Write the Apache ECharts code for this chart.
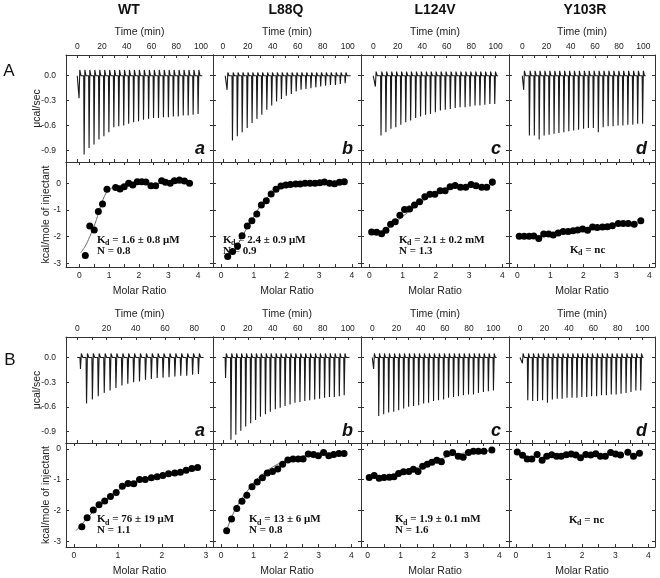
<!DOCTYPE html>
<html><head><meta charset="utf-8">
<script src="https://cdn.jsdelivr.net/npm/echarts@6/dist/echarts.min.js"></script>
<style>html,body{margin:0;padding:0;background:#fff}#c{width:660px;height:578px}</style>
</head><body><div id="c"></div><script>
// ================= DATA =================
const proteins = ['WT', 'L88Q', 'L124V', 'Y103R'];
const panelLetters = ['a', 'b', 'c', 'd'];
const timeTicks = [0, 20, 40, 60, 80, 100];
const timeTicksShort = [0, 20, 40, 60, 80];
const ratioTicks = [0, 1, 2, 3, 4];
const ratioTicksShort = [0, 1, 2, 3];
const rawTicks = [0, -0.3, -0.6, -0.9];
const heatTicks = [0, -1, -2, -3];

// Raw thermograms: injection times (min) and peak power (µcal/sec); first = small initial injection
const A_WT_t = [1.1, 5.2, 9.2, 13.2, 17.2, 21.2, 25.2, 29.2, 33.2, 37.2, 41.2, 45.2, 49.2, 53.2, 57.3, 61.3, 65.3, 69.3, 73.3, 77.3, 81.3, 85.3, 89.3, 93.3, 97.3];
const A_WT_p = [-0.27, -0.95, -0.87, -0.83, -0.77, -0.73, -0.68, -0.62, -0.61, -0.60, -0.58, -0.56, -0.55, -0.53, -0.52, -0.51, -0.51, -0.50, -0.50, -0.49, -0.49, -0.48, -0.48, -0.47, -0.46];
const A_L88Q_t = [3.1, 7.4, 11.3, 15.2, 19.2, 23.1, 27.0, 30.9, 34.9, 38.8, 42.7, 46.6, 50.5, 54.5, 58.4, 62.3, 66.2, 70.2, 74.1, 78.0, 81.9, 85.8, 89.8, 93.7, 97.6];
const A_L88Q_p = [-0.17, -0.78, -0.73, -0.68, -0.63, -0.57, -0.52, -0.47, -0.41, -0.36, -0.31, -0.28, -0.24, -0.22, -0.19, -0.17, -0.16, -0.15, -0.14, -0.13, -0.12, -0.11, -0.11, -0.10, -0.09];
const A_L124V_t = [1.4, 6.0, 10.0, 14.1, 18.1, 22.2, 26.2, 30.2, 34.3, 38.3, 42.4, 46.4, 50.4, 54.5, 58.5, 62.6, 66.6, 70.6, 74.7, 78.7, 82.8, 86.8, 90.8, 94.9, 98.9];
const A_L124V_p = [-0.13, -0.72, -0.68, -0.64, -0.62, -0.59, -0.56, -0.54, -0.51, -0.49, -0.47, -0.46, -0.44, -0.42, -0.41, -0.40, -0.39, -0.38, -0.38, -0.37, -0.36, -0.36, -0.35, -0.34, -0.34];
const A_Y103R_t = [0.8, 5.5, 9.6, 13.6, 17.7, 21.8, 25.9, 29.9, 34.0, 38.1, 42.1, 46.2, 50.3, 54.3, 58.4, 62.5, 66.5, 70.6, 74.7, 78.8, 82.8, 86.9, 91.0, 95.0, 99.1];
const A_Y103R_p = [-0.17, -0.72, -0.72, -0.77, -0.72, -0.71, -0.70, -0.69, -0.68, -0.67, -0.66, -0.65, -0.64, -0.63, -0.63, -0.68, -0.62, -0.61, -0.61, -0.60, -0.60, -0.59, -0.59, -0.58, -0.58];
const B_WT_t = [1.85, 6.0, 10.0, 14.0, 18.1, 22.1, 26.1, 30.2, 34.2, 38.2, 42.2, 46.3, 50.3, 54.3, 58.3, 62.4, 66.4, 70.4, 74.5, 78.5, 82.5];
const B_WT_p = [-0.14, -0.56, -0.51, -0.47, -0.43, -0.40, -0.37, -0.34, -0.32, -0.30, -0.29, -0.27, -0.26, -0.25, -0.245, -0.24, -0.23, -0.22, -0.22, -0.21, -0.20];
const B_L88Q_t = [1.9, 6.2, 10.1, 14.1, 18.0, 22.0, 25.9, 29.8, 33.8, 37.7, 41.7, 45.6, 49.5, 53.5, 57.4, 61.4, 65.3, 69.2, 73.2, 77.1, 81.1, 85.0, 88.9, 92.9, 96.8];
const B_L88Q_p = [-0.25, -1.0, -0.94, -0.89, -0.84, -0.80, -0.76, -0.72, -0.69, -0.66, -0.63, -0.61, -0.59, -0.57, -0.55, -0.54, -0.53, -0.52, -0.51, -0.50, -0.49, -0.48, -0.48, -0.47, -0.46];
const B_L124V_t = [0.8, 5.0, 9.1, 13.2, 17.4, 21.5, 25.6, 29.7, 33.8, 38.0, 42.1, 46.2, 50.3, 54.4, 58.6, 62.7, 66.8, 70.9, 75.0, 79.2, 83.3, 87.4, 91.5, 95.6, 99.8];
const B_L124V_p = [-0.14, -0.71, -0.69, -0.67, -0.66, -0.64, -0.62, -0.60, -0.59, -0.58, -0.56, -0.55, -0.53, -0.52, -0.51, -0.49, -0.48, -0.47, -0.46, -0.45, -0.45, -0.43, -0.42, -0.41, -0.40];
const B_Y103R_t = [1.6, 6.0, 10.0, 14.0, 18.1, 22.1, 26.1, 30.1, 34.1, 38.1, 42.2, 46.2, 50.2, 54.2, 58.2, 62.3, 66.3, 70.3, 74.3, 78.3, 82.3, 86.4, 90.4, 94.4, 98.4];
const B_Y103R_p = [-0.07, -0.52, -0.53, -0.53, -0.52, -0.55, -0.51, -0.50, -0.50, -0.49, -0.49, -0.49, -0.48, -0.48, -0.47, -0.47, -0.46, -0.46, -0.45, -0.45, -0.44, -0.43, -0.42, -0.40, -0.40];
// recovery overshoot above baseline (µcal/sec) and baseline extent (min)
const overshootA = [0.07, 0.04, 0.05, 0.06];
const overshootB = [0.05, 0.05, 0.05, 0.05];
const baselineA = [[0, 101], [2, 102.4], [0, 102], [0, 102]];
const baselineB = [[0, 86.4], [0, 101.4], [0, 102.8], [0, 101]];

// Integrated heats: molar ratio and kcal/mole of injectant
const A_WT_x = [0.2, 0.35, 0.5, 0.64, 0.78, 0.93, 1.22, 1.37, 1.51, 1.66, 1.8, 1.95, 2.1, 2.24, 2.41, 2.57, 2.77, 2.9, 3.06, 3.2, 3.37, 3.54, 3.71];
const A_WT_h = [-2.71, -1.6, -1.75, -1.06, -0.78, -0.22, -0.16, -0.21, -0.13, 0, -0.06, 0.06, 0.06, 0.05, -0.09, -0.09, 0.1, 0.04, 0, 0.1, 0.12, 0.09, 0];
const A_L88Q_x = [0.2, 0.35, 0.5, 0.64, 0.8, 0.94, 1.09, 1.23, 1.38, 1.53, 1.68, 1.83, 1.98, 2.12, 2.28, 2.42, 2.57, 2.72, 2.87, 3.02, 3.16, 3.32, 3.47, 3.62, 3.77];
const A_L88Q_h = [-2.75, -2.56, -2.35, -1.97, -1.6, -1.4, -1.15, -0.81, -0.65, -0.4, -0.22, -0.1, -0.06, -0.04, -0.03, -0.03, 0, 0, 0, 0.02, 0.05, 0, -0.02, 0.04, 0.06];
const A_L124V_x = [0.07, 0.22, 0.37, 0.5, 0.64, 0.78, 0.92, 1.06, 1.21, 1.36, 1.51, 1.67, 1.82, 1.97, 2.13, 2.28, 2.43, 2.58, 2.74, 2.9, 3.06, 3.21, 3.38, 3.53, 3.7];
const A_L124V_h = [-1.83, -1.84, -1.89, -1.76, -1.54, -1.44, -1.2, -0.98, -0.96, -0.81, -0.69, -0.5, -0.41, -0.41, -0.28, -0.28, -0.13, -0.08, -0.15, -0.15, -0.04, -0.09, -0.15, -0.15, 0.05];
const A_Y103R_x = [0.06, 0.21, 0.36, 0.5, 0.65, 0.8, 0.95, 1.09, 1.24, 1.39, 1.54, 1.69, 1.83, 1.98, 2.13, 2.28, 2.42, 2.58, 2.73, 2.88, 3.06, 3.21, 3.36, 3.54, 3.74];
const A_Y103R_h = [-1.99, -1.99, -1.99, -1.98, -2.07, -1.9, -1.9, -1.94, -1.86, -1.81, -1.81, -1.78, -1.75, -1.71, -1.76, -1.64, -1.66, -1.64, -1.63, -1.59, -1.51, -1.51, -1.51, -1.54, -1.4];
const B_WT_x = [0.18, 0.30, 0.44, 0.57, 0.70, 0.83, 0.96, 1.10, 1.23, 1.36, 1.49, 1.62, 1.76, 1.89, 2.02, 2.15, 2.29, 2.42, 2.55, 2.68, 2.81];
const B_WT_h = [-2.52, -2.23, -1.98, -1.81, -1.69, -1.54, -1.41, -1.21, -1.12, -1.13, -0.99, -0.99, -0.94, -0.90, -0.86, -0.81, -0.78, -0.76, -0.69, -0.64, -0.60];
const B_L88Q_x = [0.17, 0.32, 0.48, 0.64, 0.79, 0.95, 1.11, 1.27, 1.42, 1.58, 1.74, 1.89, 2.05, 2.21, 2.37, 2.52, 2.68, 2.84, 2.99, 3.15, 3.31, 3.46, 3.62, 3.78];
const B_L88Q_h = [-2.65, -2.27, -1.93, -1.70, -1.50, -1.23, -1.07, -0.94, -0.78, -0.73, -0.65, -0.50, -0.36, -0.33, -0.33, -0.33, -0.17, -0.18, -0.22, -0.12, -0.22, -0.18, -0.15, -0.15];
const B_L124V_x = [0.05, 0.2, 0.35, 0.5, 0.66, 0.8, 0.94, 1.09, 1.25, 1.39, 1.53, 1.67, 1.81, 1.95, 2.1, 2.24, 2.4, 2.58, 2.75, 2.9, 3.06, 3.21, 3.36, 3.53, 3.77];
const B_L124V_h = [-0.93, -0.86, -0.95, -0.93, -0.92, -0.9, -0.8, -0.74, -0.73, -0.66, -0.73, -0.56, -0.5, -0.43, -0.37, -0.42, -0.16, -0.12, -0.24, -0.27, -0.12, -0.08, -0.08, -0.08, -0.04];
const B_Y103R_x = [0.04, 0.2, 0.34, 0.48, 0.64, 0.79, 0.93, 1.08, 1.23, 1.37, 1.52, 1.67, 1.81, 1.95, 2.11, 2.26, 2.41, 2.55, 2.7, 2.86, 3.01, 3.16, 3.38, 3.55, 3.73];
const B_Y103R_h = [-0.1, -0.21, -0.33, -0.33, -0.18, -0.37, -0.24, -0.19, -0.24, -0.24, -0.19, -0.17, -0.2, -0.29, -0.18, -0.2, -0.16, -0.24, -0.24, -0.12, -0.17, -0.2, -0.11, -0.24, -0.14];

// Fitted binding curves [molar ratio, kcal/mol]
const A_WT_fit = [[0.05, -2.6], [0.2, -2.35], [0.35, -2.0], [0.5, -1.6], [0.65, -1.1], [0.8, -0.6], [0.95, -0.3], [1.1, -0.17], [1.3, -0.1], [1.6, -0.05], [2, -0.02], [3, 0], [3.75, 0.02]];
const A_L88Q_fit = [[0.15, -2.78], [0.4, -2.5], [0.6, -2.1], [0.8, -1.65], [1.0, -1.25], [1.2, -0.85], [1.4, -0.55], [1.6, -0.3], [1.8, -0.13], [2.0, -0.06], [2.5, -0.02], [3.0, 0], [3.8, 0.01]];
const A_L124V_fit = [[0.05, -1.85], [0.3, -1.85], [0.6, -1.65], [0.9, -1.35], [1.2, -1.05], [1.5, -0.78], [1.8, -0.52], [2.1, -0.33], [2.4, -0.2], [2.7, -0.13], [3.0, -0.1], [3.4, -0.08], [3.75, -0.07]];
const B_WT_fit = [[0.05, -2.65], [0.3, -2.25], [0.6, -1.8], [0.9, -1.45], [1.2, -1.18], [1.5, -1.02], [1.8, -0.92], [2.1, -0.83], [2.4, -0.75], [2.8, -0.62]];
const B_L88Q_fit = [[0.15, -2.7], [0.35, -2.15], [0.55, -1.75], [0.75, -1.45], [1.0, -1.1], [1.3, -0.8], [1.6, -0.58], [1.9, -0.42], [2.2, -0.3], [2.6, -0.22], [3.0, -0.17], [3.5, -0.14], [3.8, -0.12]];
const B_L124V_fit = [[0.05, -0.93], [0.5, -0.92], [0.8, -0.86], [1.1, -0.76], [1.4, -0.65], [1.7, -0.53], [2.0, -0.42], [2.3, -0.3], [2.6, -0.2], [2.9, -0.14], [3.2, -0.1], [3.5, -0.07], [3.8, -0.05]];

const kdA = ['1.6 ± 0.8 μM', '2.4 ± 0.9 μM', '2.1 ± 0.2 mM', 'nc'];
const nA = ['0.8', '0.9', '1.3', null];
const kdB = ['76 ± 19 μM', '13 ± 6 μM', '1.9 ± 0.1 mM', 'nc'];
const nB = ['1.1', '0.8', '1.6', null];

// ================= LAYOUT =================
const colLeft = [66, 213, 361, 509];
const colWidth = [147, 148, 148, 146];
const rowsA = {raw: [55, 107], heat: [162, 105]};
const rowsB = {raw: [337, 106], heat: [443, 106]};
const timeRangeA = [[-9.1, 109.7], [-7.8, 110.6], [-10, 110.9], [-11, 109.7]];
const timeRangeB = [[-7.7, 92.8], [-7.8, 110.6], [-9.3, 113], [-9, 110.4]];
const ratioRangeA = [[-0.45, 4.5], [-0.25, 4.28], [-0.25, 4.2], [-0.25, 4.17]];
const ratioRangeB = [[-0.18, 3.16], [-0.25, 4.3], [-0.2, 4.29], [-0.21, 4.2]];
const rawRange = [-1.04, 0.25];
const heatRangeA = [-3.14, 0.8];
const heatRangeB = [-3.18, 0.19];

const AX = '#333';
const grids = [], xAxes = [], yAxes = [], series = [];

function halfSteps(ticks, step) {
  const out = [];
  ticks.forEach((t, i) => { out.push(t); if (i < ticks.length - 1) out.push(t + step); });
  return out;
}

function addPanel(o) {
  const gi = grids.length;
  grids.push({left: o.left, top: o.top, width: o.width, height: o.height});
  const line = {show: true, onZero: false, lineStyle: {color: AX, width: 1}};
  const tick = v => ({show: true, inside: true, length: 3, customValues: v, lineStyle: {color: AX, width: 1}});
  const xi = xAxes.length;
  const other = o.xPos === 'top' ? 'bottom' : 'top';
  xAxes.push({
    type: 'value', gridIndex: gi, position: o.xPos, min: o.xr[0], max: o.xr[1],
    axisLine: line, axisTick: tick(o.xMinor), splitLine: {show: false},
    axisLabel: {show: true, customValues: o.xTicks, fontSize: 8.5, margin: 4, color: '#222', fontFamily: 'Liberation Sans'},
    name: o.xName, nameLocation: 'middle', nameGap: o.xNameGap, nameMoveOverlap: false,
    nameTextStyle: {fontSize: 10.5, color: '#222', fontFamily: 'Liberation Sans'}
  });
  xAxes.push({
    type: 'value', gridIndex: gi, position: other, min: o.xr[0], max: o.xr[1],
    axisLine: line, axisTick: tick(o.xMinor), axisLabel: {show: false}, splitLine: {show: false}
  });
  const yi = yAxes.length;
  yAxes.push({
    type: 'value', gridIndex: gi, position: 'left', min: o.yr[0], max: o.yr[1],
    axisLine: line, axisTick: tick(o.yTicks), splitLine: {show: false},
    axisLabel: {show: o.showY, customValues: o.yTicks, fontSize: 8.5, margin: o.yMargin, color: '#222',
      fontFamily: 'Liberation Sans', formatter: o.yFmt},
    name: o.showY ? o.yName : '', nameLocation: 'middle', nameGap: o.yNameGap, nameRotate: 90, nameMoveOverlap: false,
    nameTextStyle: {fontSize: 10.5, color: '#222', fontFamily: 'Liberation Sans'}
  });
  yAxes.push({
    type: 'value', gridIndex: gi, position: 'right', min: o.yr[0], max: o.yr[1],
    axisLine: line, axisTick: tick(o.yTicks), axisLabel: {show: false}, splitLine: {show: false}
  });
  return {xi, yi};
}

function trace(t, p, os, span) {
  const d = [[span[0], 0]];
  for (let i = 0; i < t.length; i++) {
    d.push([t[i], 0], [t[i] + 0.35, p[i]], [t[i] + 0.95, os], [t[i] + 1.9, 0]);
  }
  d.push([span[1], 0]);
  return d;
}
const zip = (x, y) => x.map((v, i) => [v, y[i]]);

const rawSets = {
  A: [[A_WT_t, A_WT_p], [A_L88Q_t, A_L88Q_p], [A_L124V_t, A_L124V_p], [A_Y103R_t, A_Y103R_p]],
  B: [[B_WT_t, B_WT_p], [B_L88Q_t, B_L88Q_p], [B_L124V_t, B_L124V_p], [B_Y103R_t, B_Y103R_p]]
};
const heatSets = {
  A: [[A_WT_x, A_WT_h, A_WT_fit], [A_L88Q_x, A_L88Q_h, A_L88Q_fit], [A_L124V_x, A_L124V_h, A_L124V_fit], [A_Y103R_x, A_Y103R_h, null]],
  B: [[B_WT_x, B_WT_h, B_WT_fit], [B_L88Q_x, B_L88Q_h, B_L88Q_fit], [B_L124V_x, B_L124V_h, B_L124V_fit], [B_Y103R_x, B_Y103R_h, null]]
};

['A', 'B'].forEach(blk => {
  const rows = blk === 'A' ? rowsA : rowsB;
  const tr = blk === 'A' ? timeRangeA : timeRangeB;
  const rr = blk === 'A' ? ratioRangeA : ratioRangeB;
  const os = blk === 'A' ? overshootA : overshootB;
  const bl = blk === 'A' ? baselineA : baselineB;
  const hr = blk === 'A' ? heatRangeA : heatRangeB;
  for (let c = 0; c < 4; c++) {
    const short = blk === 'B' && c === 0;
    const tt = short ? timeTicksShort : timeTicks;
    const rt = short ? ratioTicksShort : ratioTicks;
    const raw = addPanel({
      left: colLeft[c], top: rows.raw[0], width: colWidth[c], height: rows.raw[1],
      xr: tr[c], yr: rawRange, xPos: 'top', xTicks: tt, xMinor: halfSteps(tt, 10).filter(v => v <= tr[c][1]),
      xName: 'Time (min)', xNameGap: 17, yTicks: rawTicks, showY: c === 0, yMargin: 10,
      yFmt: v => v.toFixed(1), yName: 'μcal/sec', yNameGap: 23
    });
    const [t, p] = rawSets[blk][c];
    series.push({type: 'line', xAxisIndex: raw.xi, yAxisIndex: raw.yi, data: trace(t, p, os[c], bl[c]),
      symbol: 'none', lineStyle: {color: '#1a1a1a', width: 1.1}, animation: false});
    const heat = addPanel({
      left: colLeft[c], top: rows.heat[0], width: colWidth[c], height: rows.heat[1],
      xr: rr[c], yr: hr, xPos: 'bottom', xTicks: rt, xMinor: halfSteps(rt, 0.5).filter(v => v <= rr[c][1]),
      xName: 'Molar Ratio', xNameGap: 19, yTicks: heatTicks, showY: c === 0, yMargin: 5,
      yFmt: v => String(v), yName: 'kcal/mole of injectant', yNameGap: 14
    });
    const [hx, hy, fit] = heatSets[blk][c];
    if (fit) series.push({type: 'line', xAxisIndex: heat.xi, yAxisIndex: heat.yi, data: fit, smooth: true,
      symbol: 'none', lineStyle: {color: '#666', width: 1}, z: 2, animation: false});
    series.push({type: 'scatter', xAxisIndex: heat.xi, yAxisIndex: heat.yi, data: zip(hx, hy),
      symbolSize: 7, itemStyle: {color: '#000', opacity: 1}, z: 3, animation: false});
  }
});

// ================= TEXT =================
const graphic = [];
const titleX = [129, 286, 435, 585];
proteins.forEach((p, i) => graphic.push({type: 'text', x: titleX[i], y: 10,
  style: {text: p, font: 'bold 14px "Liberation Sans"', fill: '#111', textAlign: 'center', textVerticalAlign: 'middle'}}));
graphic.push({type: 'text', x: 9, y: 71, style: {text: 'A', font: '17px "Liberation Sans"', fill: '#111', textAlign: 'center', textVerticalAlign: 'middle'}});
graphic.push({type: 'text', x: 10, y: 360, style: {text: 'B', font: '17px "Liberation Sans"', fill: '#111', textAlign: 'center', textVerticalAlign: 'middle'}});
panelLetters.forEach((l, i) => {
  [158, 440].forEach(yy => graphic.push({type: 'text', x: colLeft[i] + colWidth[i] - 8, y: yy,
    style: {text: l, font: 'italic bold 18px "Liberation Sans"', fill: '#111', textAlign: 'right', textVerticalAlign: 'bottom'}}));
});
function kd(x, y, val, n) {
  const f = 'bold 11px "Liberation Serif"';
  graphic.push({type: 'text', x: x, y: y, style: {text: 'K', font: f, fill: '#111', textVerticalAlign: 'middle'}});
  graphic.push({type: 'text', x: x + 8, y: y + 3, style: {text: 'd', font: 'bold 8px "Liberation Serif"', fill: '#111', textVerticalAlign: 'middle'}});
  graphic.push({type: 'text', x: x + 12.5, y: y, style: {text: ' = ' + val, font: f, fill: '#111', textVerticalAlign: 'middle'}});
  if (n) graphic.push({type: 'text', x: x, y: y + 11, style: {text: 'N = ' + n, font: f, fill: '#111', textVerticalAlign: 'middle'}});
}
const kdXA = [97, 223, 399, 570];
const kdXB = [97, 249, 395, 569];
for (let c = 0; c < 4; c++) {
  kd(kdXA[c], nA[c] ? 240 : 250, kdA[c], nA[c]);
  kd(kdXB[c], nB[c] ? 519.5 : 520, kdB[c], nB[c]);
}

const chart = echarts.init(document.getElementById('c'), null, {renderer: 'canvas'});
chart.setOption({backgroundColor: '#fff', animation: false, grid: grids, xAxis: xAxes, yAxis: yAxes, series, graphic});
</script></body></html>
